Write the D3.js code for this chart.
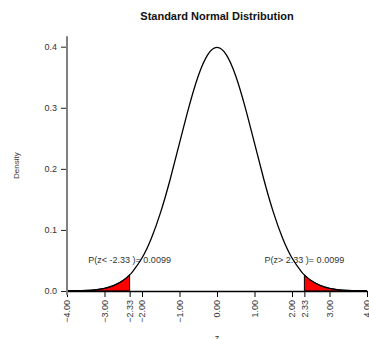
<!DOCTYPE html>
<html>
<head>
<meta charset="utf-8">
<script src="https://cdn.jsdelivr.net/npm/d3@7"></script>
<style>
  body { margin: 0; background: #fff; }
  text { font-family: "Liberation Sans", Arial, sans-serif; }
</style>
</head>
<body>
<div id="chart"></div>
<script>
// ---------------------------------------------------------
// DATA
// ---------------------------------------------------------
const zValues = [-4, -3.75, -3.5, -3.25, -3, -2.75, -2.5, -2.33, -2.25, -2, -1.75, -1.5, -1.25, -1,
  -0.75, -0.5, -0.25, 0, 0.25, 0.5, 0.75, 1, 1.25, 1.5, 1.75, 2, 2.25, 2.33, 2.5, 2.75, 3, 3.25, 3.5, 3.75, 4];
const densityValues = [0.0001, 0.0004, 0.0009, 0.0020, 0.0044, 0.0091, 0.0175, 0.0264, 0.0317, 0.0540, 0.0863, 0.1295, 0.1826, 0.2420,
  0.3011, 0.3521, 0.3867, 0.3989, 0.3867, 0.3521, 0.3011, 0.2420, 0.1826, 0.1295, 0.0863, 0.0540, 0.0317, 0.0264, 0.0175, 0.0091, 0.0044, 0.0020, 0.0009, 0.0004, 0.0001];

const xTicks = [-4, -3, -2.33, -2, -1, 0, 1, 2, 2.33, 3, 4];
const yTicks = [0, 0.1, 0.2, 0.3, 0.4];
const cutoffs = [-2.33, 2.33];
const tailLabels = ["P(z< -2.33 )= 0.0099", "P(z> 2.33 )= 0.0099"];
const labelLevel = 0.05;

const points = zValues.map((z, i) => ({ z: z, d: densityValues[i] }));

// ---------------------------------------------------------
// SETUP
// ---------------------------------------------------------
const width = 369, height = 339;

const svg = d3.select("#chart").append("svg")
  .attr("width", width)
  .attr("height", height);

const x = d3.scaleLinear().domain([-4, 4]).range([67, 367]);
const y = d3.scaleLinear().domain([0, 0.4]).range([291, 46.7]);

const line = d3.line()
  .x(d => x(d.z))
  .y(d => y(d.d))
  .curve(d3.curveNatural);

const area = d3.area()
  .x(d => x(d.z))
  .y0(y(0))
  .y1(d => y(d.d))
  .curve(d3.curveNatural);

// title
svg.append("text")
  .attr("x", 217).attr("y", 20)
  .attr("text-anchor", "middle")
  .style("font-size", "11px").style("font-weight", "bold")
  .attr("fill", "#111")
  .text("Standard Normal Distribution");

// tail labels (drawn first, the curve passes over them)
cutoffs.forEach((c, i) => {
  svg.append("text")
    .attr("x", x(c)).attr("y", y(labelLevel) + 3)
    .attr("text-anchor", "middle")
    .style("font-size", "9px")
    .attr("fill", "#333")
    .text(tailLabels[i]);
});

// shaded tails
const lowTail = points.filter(p => p.z <= cutoffs[0]);
const highTail = points.filter(p => p.z >= cutoffs[1]);
[lowTail, highTail].forEach(t => {
  svg.append("path")
    .attr("d", area(t))
    .attr("fill", "#ff0000")
    .attr("stroke", "#000")
    .attr("stroke-width", 1);
});

// x axis
const xAxis = svg.append("g")
  .attr("transform", `translate(0,${y(0)})`)
  .call(d3.axisBottom(x).tickValues(xTicks).tickSize(6).tickSizeOuter(0).tickFormat(d3.format(".2f")));
xAxis.select(".domain").attr("stroke", "#000").attr("stroke-width", 1.5);
xAxis.selectAll(".tick line").attr("stroke", "#000");
xAxis.selectAll(".tick text")
  .attr("transform", "rotate(-90)")
  .attr("x", -9).attr("y", 0).attr("dy", "0.32em")
  .attr("text-anchor", "end")
  .style("font-size", "9px")
  .style("font-family", "'Liberation Sans', Arial, sans-serif")
  .attr("fill", "#333");

// curve
svg.append("path")
  .attr("d", line(points))
  .attr("fill", "none")
  .attr("stroke", "#000")
  .attr("stroke-width", 1.3);

// y axis
const yAxis = svg.append("g")
  .attr("transform", "translate(67,0)")
  .call(d3.axisLeft(y).tickValues(yTicks).tickSize(6).tickSizeOuter(0).tickFormat(d3.format(".1f")));
yAxis.select(".domain").remove();
yAxis.append("line")
  .attr("x1", 0).attr("x2", 0)
  .attr("y1", y(0.417)).attr("y2", y(0) + 4)
  .attr("stroke", "#808080").attr("stroke-width", 2);
yAxis.selectAll(".tick line").attr("stroke", "#222");
yAxis.selectAll(".tick text")
  .attr("x", -10)
  .style("font-size", "9px")
  .style("font-family", "'Liberation Sans', Arial, sans-serif")
  .attr("fill", "#333");

// axis titles
svg.append("text")
  .attr("transform", `translate(19,${(y(0.417) + y(0) + 4) / 2}) rotate(-90)`)
  .attr("text-anchor", "middle")
  .style("font-size", "8px")
  .attr("fill", "#333")
  .text("Density");

svg.append("text")
  .attr("x", 217).attr("y", 341)
  .attr("text-anchor", "middle")
  .style("font-size", "9px")
  .attr("fill", "#333")
  .text("z");
</script>
</body>
</html>
